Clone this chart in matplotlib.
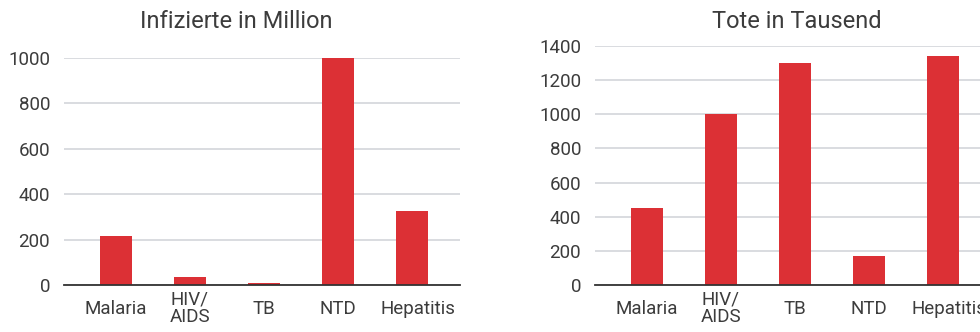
import matplotlib
matplotlib.use('Agg')
import matplotlib.pyplot as plt
from matplotlib.transforms import ScaledTranslation

plt.rcParams['font.family'] = ['Roboto', 'DejaVu Sans']

categories = ['Malaria', 'HIV/\nAIDS', 'TB', 'NTD', 'Hepatitis']
infected_mio = [215, 35, 10, 1000, 325]
deaths_k = [450, 1000, 1300, 170, 1340]

BAR_RED = '#dc3035'
TEXT = '#3c3c3c'
GRID = '#d3d6da'


def draw_panel(fig, ax, values, yticks):
    x = range(len(categories))
    ax.bar(x, values, width=0.44, color=BAR_RED, zorder=3)
    ax.set_xlim(-0.7, 4.65)
    ax.set_ylim(0, yticks[-1])
    ax.set_yticks(yticks)
    ax.set_yticklabels([str(v) for v in yticks])
    ax.set_xticks(list(x))
    ax.set_xticklabels(categories, va='center', linespacing=0.95)
    ax.grid(axis='y', color=GRID, linewidth=1.2, zorder=0)
    for s in ['top', 'right', 'left']:
        ax.spines[s].set_visible(False)
    ax.spines['bottom'].set_color('#333333')
    ax.spines['bottom'].set_linewidth(1.3)
    ax.spines['bottom'].set_zorder(4)
    ax.tick_params(axis='both', length=0, labelsize=13.5, colors=TEXT)
    ax.tick_params(axis='y', pad=10)
    ax.tick_params(axis='x', pad=17)
    # last label sits a little right of its bar in the original
    last = ax.get_xticklabels()[-1]
    last.set_transform(last.get_transform() + ScaledTranslation(0.06, 0, fig.dpi_scale_trans))


fig = plt.figure(figsize=(9.8, 3.32), dpi=100)

ax1 = fig.add_axes([64 / 980, 1 - 285 / 332, 396 / 980, (285 - 58) / 332])
draw_panel(fig, ax1, infected_mio, [0, 200, 400, 600, 800, 1000])

ax2 = fig.add_axes([595 / 980, 1 - 285 / 332, 396 / 980, (285 - 46) / 332])
draw_panel(fig, ax2, deaths_k, [0, 200, 400, 600, 800, 1000, 1200, 1400])

fig.text(236 / 980, 1 - 22 / 332, 'Infizierte in Million', ha='center', va='center',
         fontsize=17, color=TEXT)
fig.text(797 / 980, 1 - 21 / 332, 'Tote in Tausend', ha='center', va='center',
         fontsize=17, color=TEXT)

fig.savefig('out.png', dpi=100, facecolor='white')
